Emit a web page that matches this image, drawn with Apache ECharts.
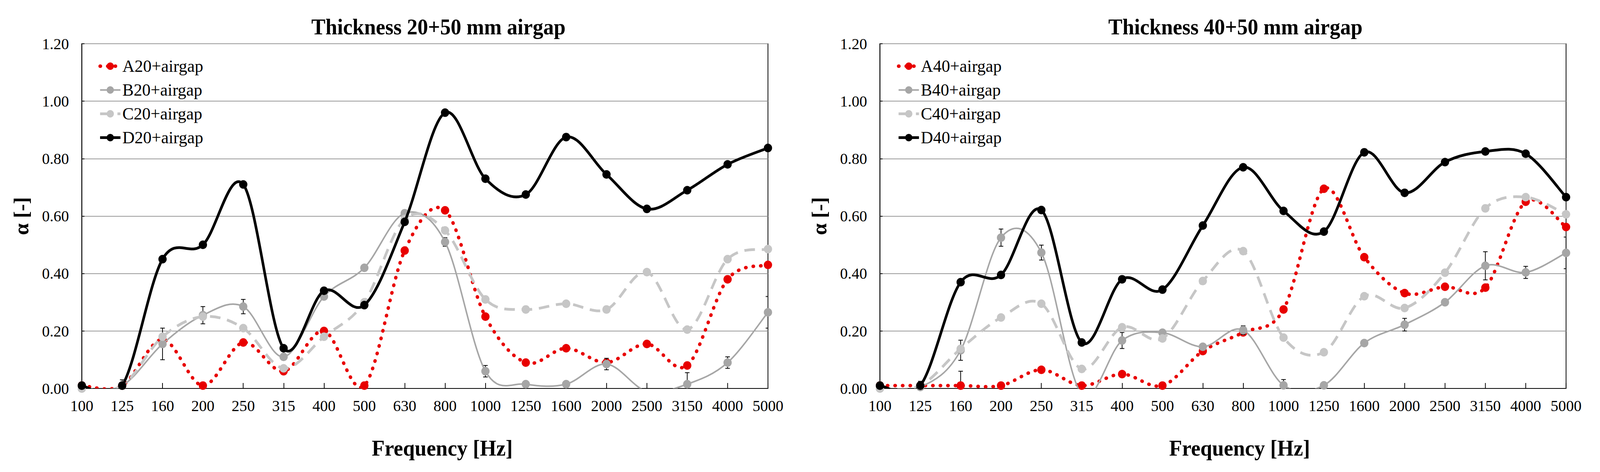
<!DOCTYPE html>
<html>
<head>
<meta charset="utf-8">
<script src="https://cdn.jsdelivr.net/npm/echarts@6/dist/echarts.min.js"></script>
<style>
html,body{margin:0;padding:0;background:#fff;overflow:hidden;}
#chart{width:4244px;height:1209px;transform-origin:0 0;}
</style>
</head>
<body>
<div id="chart"></div>
<script>
// ---- data ----
var frequencies = ['100','125','160','200','250','315','400','500','630','800','1000','1250','1600','2000','2500','3150','4000','5000'];
var yTicks = [0, 0.2, 0.4, 0.6, 0.8, 1.0, 1.2];

var titles = ['Thickness 20+50 mm airgap', 'Thickness 40+50 mm airgap'];
var xAxisTitle = 'Frequency [Hz]';
var yAxisTitle = 'α [-]';

var namesLeft  = ['A20+airgap', 'B20+airgap', 'C20+airgap', 'D20+airgap'];
var namesRight = ['A40+airgap', 'B40+airgap', 'C40+airgap', 'D40+airgap'];

var A20 = [0.01, 0.01, 0.17, 0.01, 0.16, 0.06, 0.20, 0.01, 0.48, 0.62, 0.25, 0.09, 0.14, 0.09, 0.155, 0.08, 0.38, 0.43];
var B20 = [0.00, 0.01, 0.155, 0.255, 0.285, 0.11, 0.32, 0.42, 0.61, 0.51, 0.06, 0.015, 0.015, 0.085, -0.01, 0.015, 0.09, 0.265];
var C20 = [0.00, 0.01, 0.18, 0.25, 0.21, 0.07, 0.18, 0.30, 0.59, 0.55, 0.31, 0.275, 0.295, 0.275, 0.405, 0.205, 0.45, 0.485];
var D20 = [0.01, 0.01, 0.45, 0.50, 0.71, 0.14, 0.34, 0.29, 0.58, 0.96, 0.73, 0.675, 0.875, 0.745, 0.625, 0.69, 0.78, 0.837];
var B20err = [0, 0.02, 0.055, 0.03, 0.025, 0.01, 0.01, 0, 0, 0.015, 0.02, 0, 0, 0.02, 0, 0.04, 0.02, 0.055];

var A40 = [0.01, 0.01, 0.01, 0.01, 0.065, 0.01, 0.05, 0.01, 0.13, 0.195, 0.275, 0.695, 0.457, 0.332, 0.354, 0.351, 0.65, 0.562];
var B40 = [0.00, 0.005, 0.133, 0.525, 0.473, -0.02, 0.167, 0.194, 0.145, 0.203, 0.011, 0.011, 0.158, 0.222, 0.30, 0.427, 0.404, 0.472];
var C40 = [0.00, 0.01, 0.138, 0.247, 0.295, 0.068, 0.213, 0.174, 0.374, 0.478, 0.177, 0.126, 0.321, 0.28, 0.403, 0.627, 0.666, 0.606];
var D40 = [0.01, 0.01, 0.37, 0.395, 0.621, 0.16, 0.38, 0.344, 0.567, 0.77, 0.618, 0.546, 0.822, 0.681, 0.788, 0.825, 0.817, 0.666];
var B40err = [0, 0.02, 0.035, 0.03, 0.026, 0, 0.028, 0, 0, 0.015, 0.02, 0, 0, 0.022, 0, 0.049, 0.021, 0.055];
var A40err = [0, 0, 0.05, 0, 0, 0, 0, 0, 0, 0, 0, 0, 0, 0, 0, 0, 0, 0];

// ---- styles ----
var FONT = "'Liberation Serif', 'Times New Roman', serif";
var STYLES = {
  A: {color: '#e80000', width: 9, dash: [1, 19], cap: 'round'},
  B: {color: '#a6a6a6', width: 4, dash: null, cap: 'butt'},
  C: {color: '#c6c6c6', width: 7, dash: [28, 18], cap: 'butt'},
  D: {color: '#000000', width: 7, dash: null, cap: 'butt'}
};
var Z = {A: 3, B: 4, C: 5, D: 6};

// Layout designed for 4244 px; squeeze horizontally if the window is narrower.
var DESIGN_W = 4244;
var el = document.getElementById('chart');
var kx = Math.min(1, (window.innerWidth || DESIGN_W) / DESIGN_W);
el.style.transform = 'scaleX(' + kx + ')';

var chart = echarts.init(el, null, {renderer: 'svg', width: 4244, height: 1209});

var grids = [
  {left: 217, top: 112, width: 1820, height: 883},
  {left: 2334, top: 112, width: 1820, height: 883}
];

function xAxisFor(i) {
  return {
    type: 'category', gridIndex: i, data: frequencies, boundaryGap: false,
    axisLine: {show: true, onZero: false, lineStyle: {color: '#000', width: 2}},
    axisTick: {show: true, inside: true, length: 14, interval: 0, lineStyle: {color: '#000', width: 2}},
    axisLabel: {interval: 0, margin: 24, fontFamily: FONT, fontSize: 41, color: '#000'},
    splitLine: {show: false}
  };
}
function yAxisFor(i) {
  return {
    type: 'value', gridIndex: i, min: yTicks[0], max: yTicks[yTicks.length - 1], interval: 0.2,
    name: yAxisTitle, nameLocation: 'middle', nameRotate: 90, nameGap: 134,
    nameTextStyle: {fontFamily: FONT, fontSize: 54, fontWeight: 'bold', color: '#000'},
    axisLine: {show: true, lineStyle: {color: '#000', width: 2}},
    axisTick: {show: true, inside: true, length: 7, lineStyle: {color: '#000', width: 2}},
    axisLabel: {margin: 34, fontFamily: FONT, fontSize: 41, color: '#000',
      formatter: function (v) { return v.toFixed(2); }},
    splitLine: {show: true, lineStyle: {color: '#9a9a9a', width: 2}}
  };
}

// markers (and legend entry) through a line series whose own polyline is hidden
function markerSeries(name, data, idx, kind) {
  var st = STYLES[kind];
  return {
    name: name, type: 'line', data: data, xAxisIndex: idx, yAxisIndex: idx,
    clip: true, symbol: 'circle', symbolSize: 22, z: Z[kind],
    itemStyle: {color: st.color},
    lineStyle: {color: st.color, width: st.width, opacity: 0}
  };
}

// Excel-like smoothed curve (Catmull-Rom Bezier through the data points, via axis coords)
function curveSeries(data, idx, kind) {
  var st = STYLES[kind];
  return {
    type: 'custom', xAxisIndex: idx, yAxisIndex: idx, data: [[0, data[0]]],
    silent: true, clip: true, z: Z[kind],
    renderItem: function (params, api) {
      var pts = data.map(function (v, i) { return api.coord([i, v]); });
      var d = 'M' + pts[0][0] + ' ' + pts[0][1];
      for (var i = 0; i < pts.length - 1; i++) {
        var p0 = pts[Math.max(i - 1, 0)], p1 = pts[i], p2 = pts[i + 1], p3 = pts[Math.min(i + 2, pts.length - 1)];
        var c1x = p1[0] + (p2[0] - p0[0]) / 6, c1y = p1[1] + (p2[1] - p0[1]) / 6;
        var c2x = p2[0] - (p3[0] - p1[0]) / 6, c2y = p2[1] - (p3[1] - p1[1]) / 6;
        d += ' C' + c1x + ' ' + c1y + ' ' + c2x + ' ' + c2y + ' ' + p2[0] + ' ' + p2[1];
      }
      var cs = params.coordSys;
      var style = {fill: null, stroke: st.color, lineWidth: st.width, lineCap: st.cap, lineJoin: 'round'};
      if (st.dash) style.lineDash = st.dash;
      return {
        type: 'group',
        clipPath: {type: 'rect', shape: {x: cs.x, y: cs.y - 2, width: cs.width, height: cs.height + 2}},
        children: [{type: 'path', shape: {pathData: d}, style: style}]
      };
    }
  };
}

function errorSeries(values, errs, idx, z) {
  var d = [];
  for (var i = 0; i < values.length; i++) {
    if (errs[i] > 0) d.push([i, values[i], errs[i]]);
  }
  return {
    type: 'custom', xAxisIndex: idx, yAxisIndex: idx, data: d, z: z, silent: true, clip: true,
    renderItem: function (params, api) {
      var x = api.value(0), v = api.value(1), e = api.value(2);
      var top = api.coord([x, v + e]);
      var bot = api.coord([x, v - e]);
      var cw = 6;
      var s = {stroke: '#000', lineWidth: 2};
      return {type: 'group', children: [
        {type: 'line', shape: {x1: top[0], y1: top[1], x2: bot[0], y2: bot[1]}, style: s},
        {type: 'line', shape: {x1: top[0] - cw, y1: top[1], x2: top[0] + cw, y2: top[1]}, style: s},
        {type: 'line', shape: {x1: bot[0] - cw, y1: bot[1], x2: bot[0] + cw, y2: bot[1]}, style: s}
      ]};
    }
  };
}

function legendData(names) {
  var kinds = ['A', 'B', 'C', 'D'];
  return names.map(function (n, i) {
    var st = STYLES[kinds[i]];
    return {name: n, lineStyle: {color: st.color, width: st.width, type: st.dash || 'solid', cap: st.cap, opacity: 1}};
  });
}

var legendCommon = {
  orient: 'vertical', itemWidth: 54, itemHeight: 24, itemGap: 16,
  textStyle: {fontFamily: FONT, fontSize: 45, color: '#000', lineHeight: 45},
  top: 142
};

var option = {
  backgroundColor: '#fff',
  animation: false,
  title: [
    {text: titles[0], left: 1158, top: 36, textAlign: 'center',
     textStyle: {fontFamily: FONT, fontSize: 56, fontWeight: 'bold', color: '#000'}},
    {text: titles[1], left: 3272, top: 36, textAlign: 'center',
     textStyle: {fontFamily: FONT, fontSize: 56, fontWeight: 'bold', color: '#000'}},
    {text: xAxisTitle, left: 1168, top: 1115, textAlign: 'center',
     textStyle: {fontFamily: FONT, fontSize: 56, fontWeight: 'bold', color: '#000'}},
    {text: xAxisTitle, left: 3283, top: 1115, textAlign: 'center',
     textStyle: {fontFamily: FONT, fontSize: 56, fontWeight: 'bold', color: '#000'}}
  ],
  grid: grids.map(function (g) {
    return Object.assign({show: true, borderColor: '#000', borderWidth: 2, backgroundColor: 'transparent'}, g);
  }),
  xAxis: [xAxisFor(0), xAxisFor(1)],
  yAxis: [yAxisFor(0), yAxisFor(1)],
  legend: [
    Object.assign({left: 256, data: legendData(namesLeft)}, legendCommon),
    Object.assign({left: 2374, data: legendData(namesRight)}, legendCommon)
  ],
  series: [
    curveSeries(A20, 0, 'A'), markerSeries(namesLeft[0], A20, 0, 'A'),
    errorSeries(B20, B20err, 0, Z.B),
    curveSeries(B20, 0, 'B'), markerSeries(namesLeft[1], B20, 0, 'B'),
    curveSeries(C20, 0, 'C'), markerSeries(namesLeft[2], C20, 0, 'C'),
    curveSeries(D20, 0, 'D'), markerSeries(namesLeft[3], D20, 0, 'D'),

    errorSeries(A40, A40err, 1, Z.A),
    curveSeries(A40, 1, 'A'), markerSeries(namesRight[0], A40, 1, 'A'),
    errorSeries(B40, B40err, 1, Z.B),
    curveSeries(B40, 1, 'B'), markerSeries(namesRight[1], B40, 1, 'B'),
    curveSeries(C40, 1, 'C'), markerSeries(namesRight[2], C40, 1, 'C'),
    curveSeries(D40, 1, 'D'), markerSeries(namesRight[3], D40, 1, 'D')
  ]
};
chart.setOption(option);
</script>
</body>
</html>
